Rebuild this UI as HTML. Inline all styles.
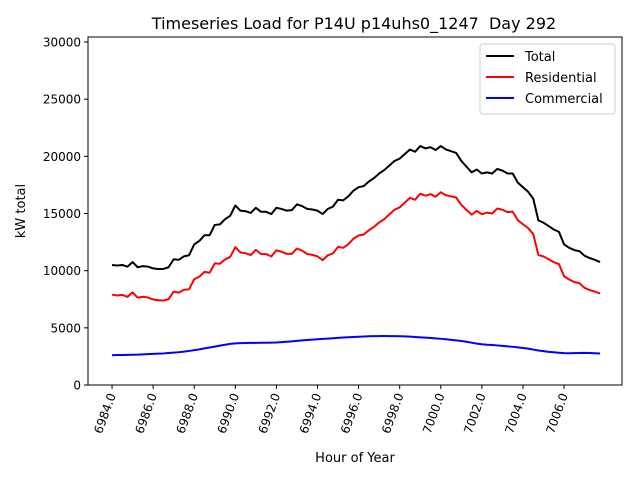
<!DOCTYPE html>
<html><head><meta charset="utf-8"><style>
body{margin:0;background:#fff;}
svg text{font-family:"DejaVu Sans","Liberation Sans",sans-serif;fill:#000;}
</style></head><body>
<svg id="chart" width="640" height="480" viewBox="0 0 640 480" xmlns="http://www.w3.org/2000/svg">
<rect x="0" y="0" width="640" height="480" fill="#fff"/>
<text x="354" y="29" font-size="16" text-anchor="middle">Timeseries Load for P14U p14uhs0_1247 &#160;Day 292</text>
<text x="25" y="211" font-size="13" text-anchor="middle" transform="rotate(-90 25 211)">kW total</text>
<text x="355" y="462" font-size="13" text-anchor="middle">Hour of Year</text>
<g id="plot"></g>
<rect x="88" y="37" width="534" height="348" fill="none" stroke="#000" stroke-width="1"/>
<g>
<rect x="480" y="44" width="135" height="70" rx="3" fill="#fff" stroke="#ccc"/>
<line x1="486" y1="56" x2="514" y2="56" stroke="#000" stroke-width="2"/>
<text x="525" y="61" font-size="13">Total</text>
<line x1="486" y1="77" x2="514" y2="77" stroke="#ff0000" stroke-width="2"/>
<text x="525" y="82" font-size="13">Residential</text>
<line x1="486" y1="98" x2="514" y2="98" stroke="#0000ff" stroke-width="2"/>
<text x="525" y="103" font-size="13">Commercial</text>
</g>
</svg>
<script>
const startHour = 6984;
const stepHour = 0.25;
const totalLoad = [10500,10450,10500,10350,10750,10300,10400,10350,10200,10150,10150,10300,11000,10950,11250,11350,12300,12600,13100,13100,14000,14050,14500,14800,15700,15250,15200,15050,15500,15150,15150,14950,15500,15400,15250,15300,15800,15650,15400,15350,15250,14950,15400,15600,16200,16150,16500,17000,17300,17400,17800,18100,18500,18800,19200,19600,19800,20200,20600,20400,20900,20700,20800,20550,20900,20600,20450,20300,19600,19100,18600,18850,18500,18600,18500,18900,18750,18500,18500,17700,17300,16900,16300,14400,14200,13900,13600,13400,12300,12000,11800,11700,11300,11100,10950,10750];
const residentialLoad = [7900,7830,7880,7710,8100,7640,7720,7650,7480,7410,7390,7500,8170,8080,8330,8370,9250,9480,9900,9820,10640,10610,10980,11200,12060,11590,11530,11370,11820,11460,11450,11240,11780,11650,11470,11480,11940,11750,11460,11380,11250,10920,11340,11510,12080,12000,12320,12800,13080,13160,13540,13830,14220,14510,14920,15330,15540,15950,16370,16200,16730,16560,16690,16470,16860,16600,16500,16400,15750,15320,14900,15230,14940,15080,15000,15440,15330,15120,15160,14410,14060,13720,13200,11380,11240,11000,10740,10580,9510,9220,9010,8900,8490,8300,8170,8000];
const commercialLoad = [2600,2620,2620,2640,2650,2660,2680,2700,2720,2740,2760,2800,2830,2870,2920,2980,3050,3120,3200,3280,3360,3440,3520,3600,3640,3660,3670,3680,3680,3690,3700,3710,3720,3750,3780,3820,3860,3900,3940,3970,4000,4030,4060,4090,4120,4150,4180,4200,4220,4240,4260,4270,4280,4290,4280,4270,4260,4250,4230,4200,4170,4140,4110,4080,4040,4000,3950,3900,3850,3780,3700,3620,3560,3520,3500,3460,3420,3380,3340,3290,3240,3180,3100,3020,2960,2900,2860,2820,2790,2780,2790,2800,2810,2800,2780,2750];
const xTicks = [6984,6986,6988,6990,6992,6994,6996,6998,7000,7002,7004,7006];
const xTickLabels = ["6984.0","6986.0","6988.0","6990.0","6992.0","6994.0","6996.0","6998.0","7000.0","7002.0","7004.0","7006.0"];
const yTicks = [0,5000,10000,15000,20000,25000,30000];
const yTickLabels = ["0","5000","10000","15000","20000","25000","30000"];

const L=88,R=622,T=37,B=385;
const xMin=6982.83,xMax=7008.82,yMin=0,yMax=30438;
function xScale(v){return L+(v-xMin)/(xMax-xMin)*(R-L);}
function yScale(v){return B-(v-yMin)/(yMax-yMin)*(B-T);}
const NS="http://www.w3.org/2000/svg";
const g=document.getElementById('plot');
function mk(tag,attrs){const e=document.createElementNS(NS,tag);for(const k in attrs)e.setAttribute(k,attrs[k]);return e;}

xTicks.forEach((t,i)=>{
  const x=xScale(t);
  const tk=mk('line',{x1:x,y1:B,x2:x,y2:B+4,stroke:'#000'});
  
  
  g.appendChild(tk);
  const tx=mk('text',{x:x+4,y:B+10,'font-size':'12','text-anchor':'end',transform:`rotate(-70 ${x+4} ${B+10})`});
  
  
  tx.textContent=xTickLabels[i];
  g.appendChild(tx);
});
yTicks.forEach((t,i)=>{
  const y=yScale(t);
  const tk=mk('line',{x1:L-4,y1:y,x2:L,y2:y,stroke:'#000'});
  
  
  g.appendChild(tk);
  const tx=mk('text',{x:L-7,y:y+4.5,'font-size':'12','text-anchor':'end'});
  
  
  tx.textContent=yTickLabels[i];
  g.appendChild(tx);
});
function line(arr,color,name){
  const pts=arr.map((v,i)=>xScale(startHour+i*stepHour).toFixed(2)+','+yScale(v).toFixed(2)).join(' ');
  const p=mk('polyline',{points:pts,fill:'none',stroke:color,'stroke-width':'2','stroke-linejoin':'round'});
  
  
  g.appendChild(p);
}
line(totalLoad,'#000','total-line');
line(residentialLoad,'#ff0000','residential-line');
line(commercialLoad,'#0000ff','commercial-line');
</script>
</body></html>
